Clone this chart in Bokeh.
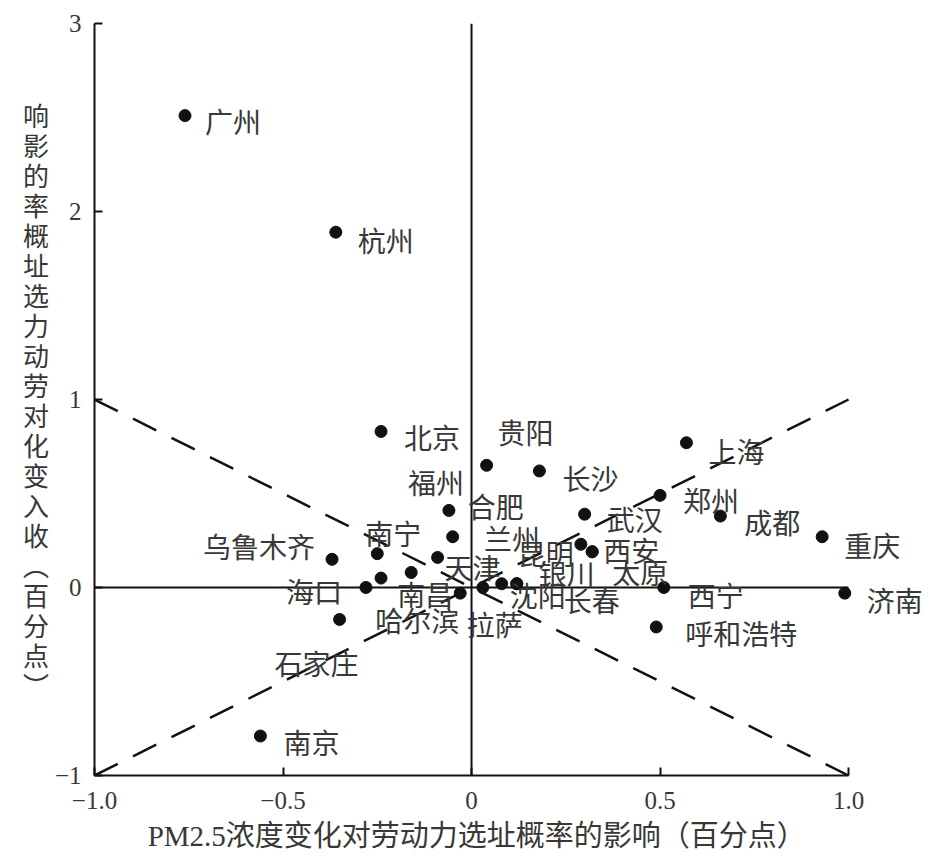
from bokeh.plotting import figure
from bokeh.models import ColumnDataSource, FixedTicker, Range1d
from bokeh.embed import file_html
from bokeh.resources import INLINE
from bokeh.core.properties import value

# ---- data ----
cities = ["广州", "杭州", "北京", "贵阳", "长沙", "上海", "郑州", "成都", "重庆", "济南",
          "西宁", "呼和浩特", "武汉", "西安", "太原", "昆明", "兰州", "合肥", "福州", "南宁",
          "乌鲁木齐", "天津", "海口", "南昌", "哈尔滨", "拉萨", "沈阳", "长春", "银川",
          "石家庄", "南京"]
x_vals = [-0.76, -0.36, -0.24, 0.04, 0.18, 0.57, 0.50, 0.66, 0.93, 0.99,
          0.51, 0.49, 0.30, 0.32, 0.32, 0.29, -0.24, -0.05, -0.06, -0.25,
          -0.37, -0.09, -0.28, -0.03, -0.16, 0.03, 0.08, 0.12, 0.12,
          -0.35, -0.56]
y_vals = [2.51, 1.89, 0.83, 0.65, 0.62, 0.77, 0.49, 0.38, 0.27, -0.03,
          0.00, -0.21, 0.39, 0.19, 0.19, 0.23, 0.05, 0.27, 0.41, 0.18,
          0.15, 0.16, 0.00, -0.03, 0.08, 0.00, 0.02, 0.02, 0.02,
          -0.17, -0.79]
# label placement relative to each point (screen pixels)
label_dx = [20, 22, 23, 11, 23, 22, 23, 24, 22, 22,
            24, 29, 22, 11, 20, -63, 103, 15, -41, -12,
            -129, 7, -80, -63, -36, -16, 8, 47, 22,
            -65, 23]
label_dy = [5, 8, 6, -33, 7, 8, 5, 6, 8, 7,
            7, 6, 5, -2, 20, 9, -40, -31, -28, -21,
            -13, 10, 3, 1, 48, 36, 11, 16, -11,
            44, 6]

x_ticks = [-1.0, -0.5, 0, 0.5, 1.0]
x_tick_labels = ["\u22121.0", "\u22120.5", "0", "0.5", "1.0"]
y_ticks = [-1, 0, 1, 2, 3]
y_tick_labels = ["\u22121", "0", "1", "2", "3"]

diag_x = [-1, 1]
diag_rising = [-1, 1]
diag_falling = [1, -1]

x_title = "PM2.5浓度变化对劳动力选址概率的影响（百分点）"
y_title_chars = list("响影的率概址选力动劳对化变入收") + ["\ufe35", "百", "分", "点", "\ufe36"]

CJK = "Noto Sans CJK SC"
SERIF = "Liberation Serif"
INK = "#111111"
TXT = "#383838"

p = figure(width=931, height=857,
           x_range=Range1d(-1, 1.22), y_range=Range1d(-1, 3),
           output_backend="svg", toolbar_location=None,
           min_border_left=94, min_border_right=0,
           min_border_top=23, min_border_bottom=82)
p.outline_line_color = None
p.xgrid.visible = False
p.ygrid.visible = False
p.background_fill_color = "white"
p.border_fill_color = "white"

for ax in (p.xaxis[0], p.yaxis[0]):
    ax.axis_line_width = 2
    ax.axis_line_color = INK
    ax.major_tick_line_color = INK
    ax.major_tick_line_width = 2
    ax.major_tick_in = 8
    ax.major_tick_out = 0
    ax.minor_tick_line_color = None
    ax.major_label_text_font = SERIF
    ax.major_label_text_font_size = "25px"
    ax.major_label_text_color = TXT
    ax.axis_label_text_color = TXT
    ax.axis_label_text_font_style = "normal"

p.xaxis.ticker = FixedTicker(ticks=x_ticks)
p.xaxis.major_label_overrides = dict(zip(x_ticks, x_tick_labels))
p.xaxis.bounds = (-1, 1)
p.xaxis.major_label_standoff = 16
# trailing ideographic spaces shift the centred title left to sit under the data area
p.xaxis.axis_label = x_title + "\u3000\u3000\u3000"
p.xaxis.axis_label_text_font = SERIF + ", " + CJK
p.xaxis.axis_label_text_font_size = "29px"
p.xaxis.axis_label_standoff = 8

p.yaxis.ticker = FixedTicker(ticks=y_ticks)
p.yaxis.major_label_overrides = dict(zip(y_ticks, y_tick_labels))
p.yaxis.major_label_standoff = 13
p.yaxis.axis_label = "\n".join(y_title_chars)
p.yaxis.axis_label_text_font = CJK
p.yaxis.axis_label_text_font_size = "26px"
p.yaxis.axis_label_text_line_height = 0.81
p.yaxis.axis_label_standoff = 3
try:
    p.yaxis.axis_label_orientation = "horizontal"
except Exception:
    pass

# zero lines
p.segment(x0=[0], y0=[-1], x1=[0], y1=[3], line_color=INK, line_width=2)
p.segment(x0=[-1], y0=[0], x1=[1], y1=[0], line_color=INK, line_width=2)

# dashed diagonals
p.line(diag_x, diag_rising, line_color=INK, line_width=2.5, line_dash="26 17")
p.line(diag_x, diag_falling, line_color=INK, line_width=2.5, line_dash="26 17")

src = ColumnDataSource(dict(x=x_vals, y=y_vals, city=cities, dx=label_dx, dy=label_dy))
p.scatter("x", "y", source=src, size=12, color=INK)
p.text("x", "y", text="city", x_offset="dx", y_offset="dy", source=src,
       text_font=value(CJK), text_font_size="28px", text_color=TXT,
       text_align="left", text_baseline="middle")

open("out.html", "w").write(file_html(p, INLINE))
